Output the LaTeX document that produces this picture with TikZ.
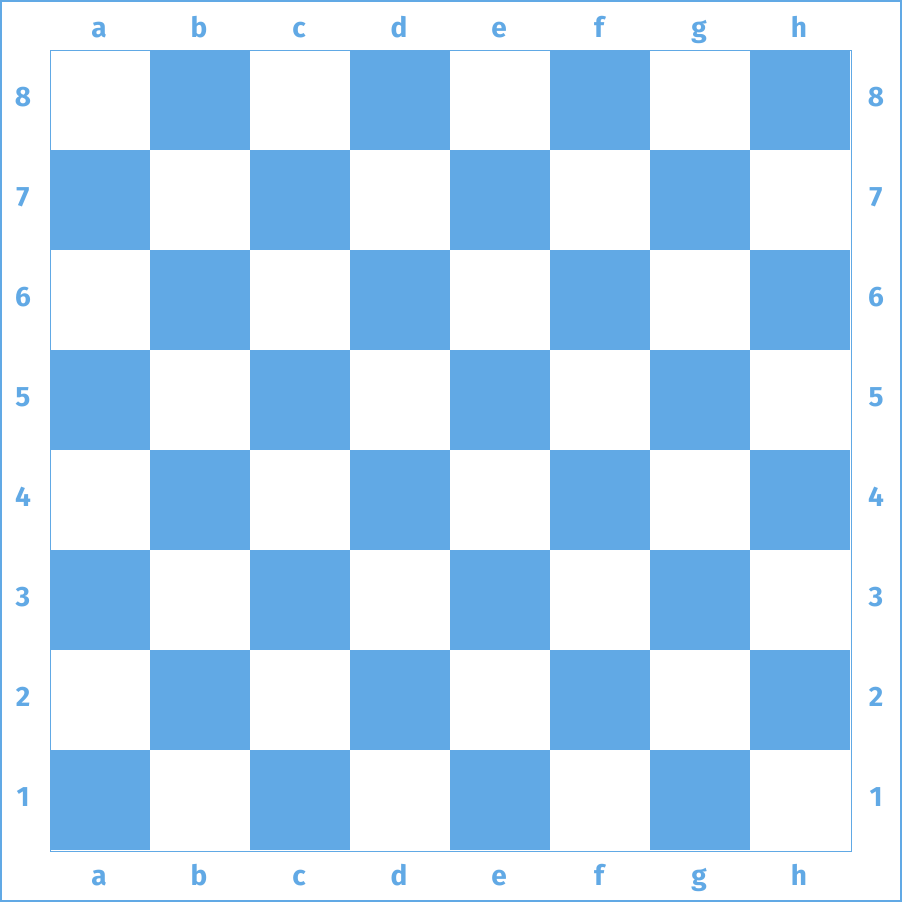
\documentclass[tikz,border=0pt]{standalone}
\usepackage{fontspec}
\setmainfont{Fira Sans}
\definecolor{boardblue}{RGB}{97,169,229}
\begin{document}
\begin{tikzpicture}[x=1pt,y=-1pt,
  lbl/.style={text=boardblue,font=\fontsize{28}{32}\selectfont\bfseries,inner sep=0pt,anchor=base},
  darksq/.style={fill=boardblue},
  frame/.style={draw=boardblue}]
\useasboundingbox (0,0) rectangle (902,902);
\fill[white] (0,0) rectangle (902,902);
\draw[frame,line width=2pt] (1,1) rectangle (901,901);
\foreach \i in {0,...,7}{
  \foreach \r in {0,...,7}{
    \pgfmathtruncatemacro{\sqpar}{mod(\i+\r,2)}
    \ifnum\sqpar=1
      \fill[darksq] (50+100*\i,50+100*\r) rectangle (150+100*\i,150+100*\r);
    \fi
  }
}
\draw[frame,line width=1pt] (50.5,50.5) rectangle (851,851);
\foreach \l [count=\k from 0] in {a,b,c,d,e,f,g,h}{
  \node[lbl] (top\l) at (99+100*\k,37) {\l};
  \node[lbl] (bot\l) at (99+100*\k,885) {\l};
}
\foreach \n [count=\k from 0] in {8,7,6,5,4,3,2,1}{
  \node[lbl] (left\n) at (23,106+100*\k) {\n};
  \node[lbl] (right\n) at (876,106+100*\k) {\n};
}
\end{tikzpicture}
\end{document}
